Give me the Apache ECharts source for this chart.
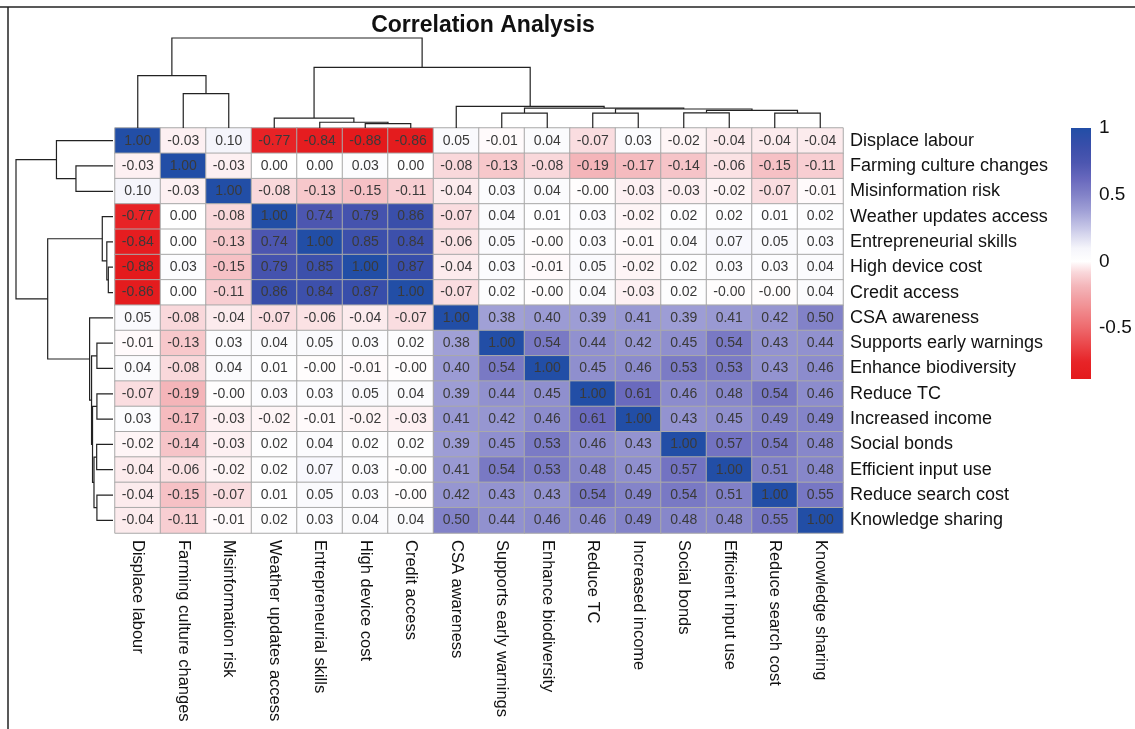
<!DOCTYPE html>
<html><head><meta charset="utf-8">
<script src="https://cdn.jsdelivr.net/npm/echarts@6/dist/echarts.min.js"></script>
<style>html,body{margin:0;padding:0;background:#fff}#c{width:1135px;height:729px}</style>
</head><body><div id="c"></div>
<script>
// ---------------- DATA ----------------
const variables = [
  "Displace labour","Farming culture changes","Misinformation risk","Weather updates access",
  "Entrepreneurial skills","High device cost","Credit access","CSA awareness",
  "Supports early warnings","Enhance biodiversity","Reduce TC","Increased income",
  "Social bonds","Efficient input use","Reduce search cost","Knowledge sharing"
];
const corr = [
  [1.00,-0.03,0.10,-0.77,-0.84,-0.88,-0.86,0.05,-0.01,0.04,-0.07,0.03,-0.02,-0.04,-0.04,-0.04],
  [-0.03,1.00,-0.03,0.00,0.00,0.03,0.00,-0.08,-0.13,-0.08,-0.19,-0.17,-0.14,-0.06,-0.15,-0.11],
  [0.10,-0.03,1.00,-0.08,-0.13,-0.15,-0.11,-0.04,0.03,0.04,-0.004,-0.03,-0.03,-0.02,-0.07,-0.01],
  [-0.77,0.00,-0.08,1.00,0.74,0.79,0.86,-0.07,0.04,0.01,0.03,-0.02,0.02,0.02,0.01,0.02],
  [-0.84,0.00,-0.13,0.74,1.00,0.85,0.84,-0.06,0.05,-0.004,0.03,-0.01,0.04,0.07,0.05,0.03],
  [-0.88,0.03,-0.15,0.79,0.85,1.00,0.87,-0.04,0.03,-0.01,0.05,-0.02,0.02,0.03,0.03,0.04],
  [-0.86,0.00,-0.11,0.86,0.84,0.87,1.00,-0.07,0.02,-0.004,0.04,-0.03,0.02,-0.004,-0.004,0.04],
  [0.05,-0.08,-0.04,-0.07,-0.06,-0.04,-0.07,1.00,0.38,0.40,0.39,0.41,0.39,0.41,0.42,0.50],
  [-0.01,-0.13,0.03,0.04,0.05,0.03,0.02,0.38,1.00,0.54,0.44,0.42,0.45,0.54,0.43,0.44],
  [0.04,-0.08,0.04,0.01,-0.004,-0.01,-0.004,0.40,0.54,1.00,0.45,0.46,0.53,0.53,0.43,0.46],
  [-0.07,-0.19,-0.004,0.03,0.03,0.05,0.04,0.39,0.44,0.45,1.00,0.61,0.46,0.48,0.54,0.46],
  [0.03,-0.17,-0.03,-0.02,-0.01,-0.02,-0.03,0.41,0.42,0.46,0.61,1.00,0.43,0.45,0.49,0.49],
  [-0.02,-0.14,-0.03,0.02,0.04,0.02,0.02,0.39,0.45,0.53,0.46,0.43,1.00,0.57,0.54,0.48],
  [-0.04,-0.06,-0.02,0.02,0.07,0.03,-0.004,0.41,0.54,0.53,0.48,0.45,0.57,1.00,0.51,0.48],
  [-0.04,-0.15,-0.07,0.01,0.05,0.03,-0.004,0.42,0.43,0.43,0.54,0.49,0.54,0.51,1.00,0.55],
  [-0.04,-0.11,-0.01,0.02,0.03,0.04,0.04,0.50,0.44,0.46,0.46,0.49,0.48,0.48,0.55,1.00]
];
const colorbarTicks = [-0.5, 0, 0.5, 1];
// hclust-style merges: negative = leaf -(index+1) in display order, positive = merge number (1-based); third = height
const colMerges = [
  [-2,-3,0.76],[-1,1,1.16],[-6,-7,0.096],[-5,3,0.127],[-4,4,0.22],
  [-9,-10,0.33],[-11,-12,0.33],[-13,-14,0.335],[-15,-16,0.33],
  [8,9,0.39],[7,10,0.42],[6,11,0.44],[-8,12,0.48],[5,13,1.34],[2,14,1.99]
];
const rowMerges = colMerges;

// ---------------- HELPERS ----------------
const FONT = "'Liberation Sans', Arial, sans-serif";
const vMin = -0.88, vMax = 1.0;
const anchors = [
  [-0.88,[228,26,28]],[-0.75,[231,36,40]],[-0.5,[238,105,108]],[-0.19,[243,180,184]],
  [-0.08,[249,216,219]],[0,[255,255,255]],[0.1,[245,245,251]],[0.38,[160,160,214]],[0.5,[130,130,200]],
  [0.61,[106,106,190]],[0.74,[76,86,176]],[0.87,[56,78,170]],[1.0,[34,78,166]]
];
function colorAt(v){
  if (v <= anchors[0][0]) return rgb(anchors[0][1]);
  for (let i=1;i<anchors.length;i++){
    if (v <= anchors[i][0]){
      const [a,ca]=anchors[i-1],[b,cb]=anchors[i];
      const t=(v-a)/(b-a);
      return rgb(ca.map((c,k)=>c+(cb[k]-c)*t));
    }
  }
  return rgb(anchors[anchors.length-1][1]);
}
function rgb(c){return 'rgb('+c.map(x=>Math.round(x)).join(',')+')';}
const stops=[];
for(let k=0;k<=94;k++){stops.push(colorAt(vMin+0.02*k));}

function treeNodes(merges){
  const pos=[],h=[];
  const P=id=>id<0?(-id-1)+0.5:pos[id-1];
  const H=id=>id<0?0:h[id-1];
  merges.forEach((m,i)=>{pos[i]=(P(m[0])+P(m[1]))/2;h[i]=m[2];});
  return merges.map((m,i)=>({a:[P(m[0]),H(m[0])],b:[P(m[1]),H(m[1])],p:pos[i],h:m[2]}));
}
const colNodes=treeNodes(colMerges), rowNodes=treeNodes(rowMerges);

const heatData=[];
corr.forEach((row,r)=>row.forEach((v,c)=>heatData.push([c,r,v])));

// ---------------- CHART ----------------
const chart=echarts.init(document.getElementById('c'),null,{renderer:'canvas'});
const HM={left:115,top:128,width:728,height:405};
const option={
  backgroundColor:'#fff',
  animation:false,
  title:{text:'Correlation Analysis',left:478,top:9,textAlign:'center',
    textStyle:{fontFamily:FONT,fontSize:23,fontWeight:'bold',color:'#111'}},
  grid:[
    Object.assign({},HM),
    {left:HM.left,top:38,width:HM.width,height:90},
    {left:16,top:HM.top,width:97,height:HM.height},
    {left:1071,top:128,width:20,height:267}
  ],
  xAxis:[
    {type:'category',gridIndex:0,data:variables,position:'bottom',
      axisLine:{show:false},axisTick:{show:false},splitLine:{show:false},
      axisLabel:{rotate:-90,margin:7,interval:0,fontFamily:FONT,fontSize:16.5,color:'#111'}},
    {type:'value',gridIndex:1,min:0,max:16,show:false},
    {type:'value',gridIndex:2,min:0,max:1.99,inverse:true,show:false},
    {type:'value',gridIndex:3,min:0,max:1,show:false}
  ],
  yAxis:[
    {type:'category',gridIndex:0,data:variables,inverse:true,position:'right',
      axisLine:{show:false},axisTick:{show:false},splitLine:{show:false},
      axisLabel:{margin:7,interval:0,fontFamily:FONT,fontSize:18,color:'#111'}},
    {type:'value',gridIndex:1,min:0,max:1.99,show:false},
    {type:'value',gridIndex:2,min:0,max:16,inverse:true,show:false},
    {type:'value',gridIndex:3,min:-1,max:1,interval:0.5,position:'right',
      axisLine:{show:false},axisTick:{show:false},splitLine:{show:false},
      axisLabel:{margin:8,fontFamily:FONT,fontSize:19,color:'#111',
        formatter:v=>colorbarTicks.indexOf(v)>=0?String(v):''}}
  ],
  visualMap:{type:'continuous',show:false,min:vMin,max:vMax,dimension:2,seriesIndex:0,
    inRange:{color:stops}},
  series:[
    {type:'heatmap',xAxisIndex:0,yAxisIndex:0,data:heatData,
      itemStyle:{borderColor:'#a9a9a9',borderWidth:1},
      label:{show:true,fontFamily:FONT,fontSize:14,color:'#3a3a3a',
        formatter:p=>p.value[2].toFixed(2)},
      emphasis:{disabled:true}},
    {type:'custom',xAxisIndex:1,yAxisIndex:1,silent:true,
      data:colNodes.map(n=>[n.p,n.h]),
      renderItem:(params,api)=>{
        const n=colNodes[params.dataIndex];
        const pts=[[n.a[0],n.a[1]],[n.a[0],n.h],[n.b[0],n.h],[n.b[0],n.b[1]]].map(p=>api.coord(p));
        return {type:'polyline',shape:{points:pts},style:{stroke:'#222',lineWidth:1.2,fill:null}};
      }},
    {type:'custom',xAxisIndex:2,yAxisIndex:2,silent:true,
      data:rowNodes.map(n=>[n.h,n.p]),
      renderItem:(params,api)=>{
        const n=rowNodes[params.dataIndex];
        const pts=[[n.a[1],n.a[0]],[n.h,n.a[0]],[n.h,n.b[0]],[n.b[1],n.b[0]]].map(p=>api.coord(p));
        return {type:'polyline',shape:{points:pts},style:{stroke:'#222',lineWidth:1.2,fill:null}};
      }},
    {type:'custom',xAxisIndex:3,yAxisIndex:3,silent:true,
      data:[[0.5,vMax]],
      renderItem:(params,api)=>{
        const p0=api.coord([0,vMax]), p1=api.coord([1,vMin]);
        const gs=[];
        for(let k=0;k<=94;k++){const v=vMin+0.02*k;gs.push({offset:(vMax-v)/(vMax-vMin),color:colorAt(v)});}
        gs.sort((a,b)=>a.offset-b.offset);
        return {type:'rect',shape:{x:p0[0],y:p0[1],width:p1[0]-p0[0],height:p1[1]-p0[1]},
          style:{fill:new echarts.graphic.LinearGradient(0,0,0,1,gs)}};
      }}
  ],
  graphic:[
    {type:'line',shape:{x1:0,y1:7,x2:1135,y2:7},style:{stroke:'#222',lineWidth:1.5}},
    {type:'line',shape:{x1:8,y1:7,x2:8,y2:729},style:{stroke:'#222',lineWidth:1.5}}
  ]
};
chart.setOption(option);
</script>
</body></html>
